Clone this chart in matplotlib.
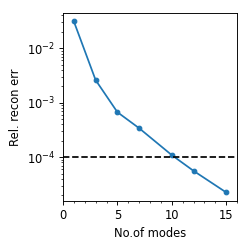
import matplotlib
matplotlib.use('Agg')
import matplotlib.pyplot as plt
import numpy as np

# modes vs relative reconstruction error
n_modes = [1, 3, 5, 7, 10, 12, 15]
rel_err = [3.1e-2, 2.6e-3, 6.7e-4, 3.4e-4, 1.09e-4, 5.6e-5, 2.25e-5]
threshold = 1e-4

fig = plt.figure(figsize=(3, 3), dpi=83)
ax = fig.add_axes([0.253, 0.193, 0.699, 0.755])
ax.plot(n_modes, rel_err, marker='o', markersize=4, color='tab:blue')
ax.axhline(threshold, color='k', ls='--')
ax.set_yscale('log')
ax.set_xlim(0, 16)
ax.minorticks_on()
ax.set_xlabel('No.of modes')
ax.set_ylabel('Rel. recon err')
fig.savefig('out.png', dpi=83)
